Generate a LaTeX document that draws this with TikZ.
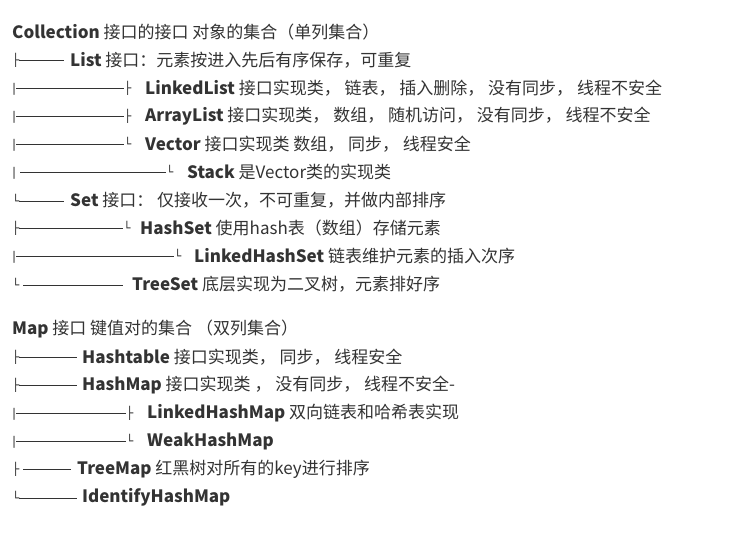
\documentclass[tikz,border=0pt]{standalone}
\usepackage{fontspec}
\setmainfont{Noto Sans CJK SC}
\newfontfamily\boxfont{DejaVu Sans}
\usetikzlibrary{positioning}
\definecolor{ink}{HTML}{333333}
\newcommand{\dash}[1]{\rule[0.3em]{#1pt}{0.7pt}}
\newcommand{\pfx}[3]{#1\dash{#2}#3}

\begin{document}
\begin{tikzpicture}[x=1pt,y=-1pt,
		line/.style={anchor=west, inner sep=0pt, text=ink, font=\fontsize{17}{20}\selectfont},
		tree/.style={anchor=west, inner sep=0pt, text=ink, font=\boxfont\fontsize{12}{14}\selectfont}]
		\useasboundingbox (0,0) rectangle (734,533);
		% Collection
		\node[line] (coll) at (12,32) {\textbf{Collection} 接口的接口 对象的集合（单列集合）};
		\node[tree] (t1) at (12,60) {\pfx{├}{45}{}};
		\node[line] (list) at (70,60) {\textbf{List} 接口：元素按进入先后有序保存，可重复};
		\node[tree] (t2) at (12,88) {\pfx{|}{108}{├}};
		\node[line] (linked) at (145,88) {\textbf{LinkedList} 接口实现类， 链表， 插入删除， 没有同步， 线程不安全};
		\node[tree] (t3) at (12,116) {\pfx{|}{108}{├}};
		\node[line] (array) at (145,116) {\textbf{ArrayList} 接口实现类， 数组， 随机访问， 没有同步， 线程不安全};
		\node[tree] (t4) at (12,144) {\pfx{|}{108}{└}};
		\node[line] (vector) at (145,144) {\textbf{Vector} 接口实现类 数组， 同步， 线程安全};
		\node[tree] (t5) at (12,172) {\pfx{|\ }{146}{└}};
		\node[line] (stack) at (187,172) {\textbf{Stack} 是Vector类的实现类};
		\node[tree] (t6) at (12,200) {\pfx{└}{45}{}};
		\node[line] (set) at (70,200) {\textbf{Set} 接口： 仅接收一次，不可重复，并做内部排序};
		\node[tree] (t7) at (12,228) {\pfx{├}{104}{└}};
		\node[line] (hashset) at (140,228) {\textbf{HashSet} 使用hash表（数组）存储元素};
		\node[tree] (t8) at (12,256) {\pfx{|}{158}{└}};
		\node[line] (lhset) at (194,256) {\textbf{LinkedHashSet} 链表维护元素的插入次序};
		\node[tree] (t9) at (12,284) {\pfx{└\ }{100}{}};
		\node[line] (treeset) at (132,284) {\textbf{TreeSet} 底层实现为二叉树，元素排好序};
		% Map
		\node[line] (map) at (12,329) {\textbf{Map} 接口 键值对的集合 （双列集合）};
		\node[tree] (m1) at (12,357) {\pfx{├}{58}{}};
		\node[line] (htable) at (82,357) {\textbf{Hashtable} 接口实现类， 同步， 线程安全};
		\node[tree] (m2) at (12,385) {\pfx{├}{58}{}};
		\node[line] (hmap) at (82,385) {\textbf{HashMap} 接口实现类 ， 没有同步， 线程不安全-};
		\node[tree] (m3) at (12,413) {\pfx{|}{110}{├}};
		\node[line] (lhmap) at (147,413) {\textbf{LinkedHashMap} 双向链表和哈希表实现};
		\node[tree] (m4) at (12,441) {\pfx{|}{110}{└}};
		\node[line] (whmap) at (147,441) {\textbf{WeakHashMap}};
		\node[tree] (m5) at (12,469) {\pfx{├\ }{48}{}};
		\node[line] (tmap) at (77,469) {\textbf{TreeMap} 红黑树对所有的key进行排序};
		\node[tree] (m6) at (12,497) {\pfx{└}{58}{}};
		\node[line] (ihmap) at (82,497) {\textbf{IdentifyHashMap}};
\end{tikzpicture}
\end{document}
